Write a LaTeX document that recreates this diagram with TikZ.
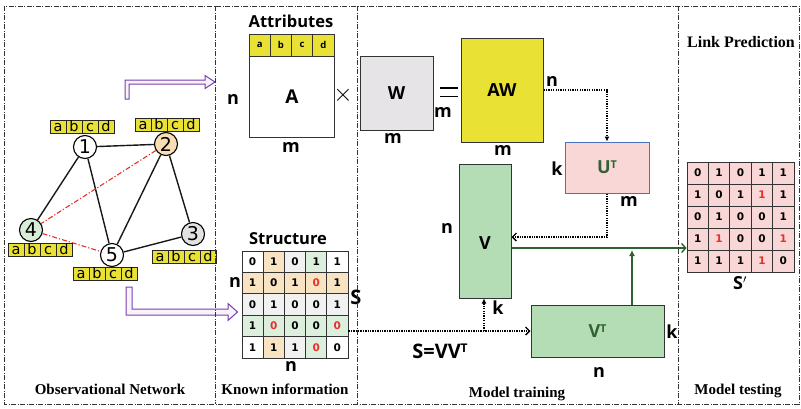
\documentclass[tikz,border=0pt]{standalone}
\usepackage{fontspec}
\setmainfont{Liberation Serif}
\newfontfamily\osans{Open Sans}
\newfontfamily\dvs{DejaVu Sans}
\usetikzlibrary{arrows.meta,calc}
\definecolor{ylw}{HTML}{E9E133}
\definecolor{orn}{HTML}{F9DEB3}
\definecolor{grnN}{HTML}{D8ECD8}
\definecolor{gryN}{HTML}{E2E2E2}
\definecolor{vgrn}{HTML}{B4DDB6}
\definecolor{pnk}{HTML}{F9D7D7}
\definecolor{morn}{HTML}{F8E3C3}
\definecolor{mgrn}{HTML}{DCEEDC}
\definecolor{mgry}{HTML}{F1F1F1}
\definecolor{wgry}{HTML}{E6E4E6}
\definecolor{dgrn}{HTML}{2F6230}
\definecolor{prp}{HTML}{7A3DB0}
\definecolor{ublue}{HTML}{4A72C0}
\definecolor{mred}{HTML}{E8302A}
\newcommand\supT{\raisebox{0.29em}{\scalebox{0.6}{T}}}
\newcommand\rz[1]{\textcolor{mred}{#1}}
\newcommand\abcdbox[3]{\foreach \lt [count=\i] in {a,b,c,d}{\node[abcell] (#1-\i) at ({#2+(\i-2.5)*16},#3) {\lt};}}
\begin{document}
\begin{tikzpicture}[x=1pt,y=-1pt,
  panel/.style={draw=black!80, line width=0.8pt, dash pattern=on 5pt off 1.5pt on 1pt off 1.5pt},
  gnode/.style={circle, draw=black, line width=1.1pt, minimum size=23pt, inner sep=0pt, font=\dvs\fontsize{19}{19}\selectfont},
  gedge/.style={line width=1.4pt, draw=black!90},
  redge/.style={line width=1.1pt, draw=mred, dash pattern=on 5pt off 2pt on 1.2pt off 2pt},
  abcell/.style={draw=black!85, line width=0.8pt, fill=ylw, minimum width=16pt, minimum height=13pt, inner sep=0pt, text height=10pt, text depth=0.5pt, font=\dvs\fontsize{14.5}{14.5}\selectfont},
  parrow/.style={draw=prp, fill=prp!6, line width=1pt, line join=miter},
  ttl/.style={font=\osans\bfseries\fontsize{16.5}{16.5}\selectfont},
  dimlbl/.style={font=\osans\bfseries\fontsize{18}{18}\selectfont, inner sep=0pt},
  mbox/.style={draw=black!80, line width=1pt, inner sep=0pt, font=\osans\bfseries\fontsize{18}{18}\selectfont},
  hcell/.style={draw=black!80, line width=0.8pt, fill=ylw, minimum width=21.25pt, minimum height=22pt, inner sep=0pt, font=\osans\bfseries\fontsize{9.5}{9.5}\selectfont},
  mcell/.style={draw=black!80, line width=0.9pt, minimum width=21.2pt, minimum height=21.4pt, inner sep=0pt, font=\dvs\bfseries\fontsize{10.5}{10.5}\selectfont},
  pcell/.style={mcell, fill=pnk, minimum width=21.4pt, minimum height=22pt},
  dotarr/.style={line width=1.3pt, dash pattern=on 1.3pt off 1.1pt, -{Latex[length=5pt,width=5pt]}},
  dotbarb/.style={line width=1.3pt, dash pattern=on 1.3pt off 1.1pt, -{Straight Barb[length=4pt,width=8pt]}},
  garr/.style={line width=1.4pt, draw=dgrn, -{Latex[length=6pt,width=6pt]}},
  gbarb/.style={line width=1.4pt, draw=dgrn, -{Straight Barb[length=4pt,width=9pt]}},
  botlbl/.style={font=\bfseries\fontsize{15}{15}\selectfont}
]
\useasboundingbox (0,0) rectangle (801,408);

% ---------- Panel 1: observational network ----------
\node[gnode, fill=white] (n1) at (85,147) {1};
\node[gnode, fill=orn] (n2) at (166,144) {2};
\node[gnode, fill=gryN] (n3) at (193,234) {3};
\node[gnode, fill=grnN] (n4) at (31,230) {4};
\node[gnode, fill=white] (n5) at (112,255) {5};
\draw[gedge] (n1) -- (n2);
\draw[gedge] (n1) -- (n4);
\draw[gedge] (n1) -- (n5);
\draw[gedge] (n2) -- (n5);
\draw[gedge] (n2) -- (n3);
\draw[gedge] (n5) -- (n3);
\draw[redge] (n2) -- (n4);
\draw[redge] (n4) -- (n5);
\abcdbox{t1}{82}{127}
\abcdbox{t2}{167}{125}
\abcdbox{t4}{40}{250}
\abcdbox{t3}{184}{257}
\abcdbox{t5}{105}{274}

% hollow purple arrows
\draw[parrow] (125,99) -- (125,80) -- (205,80) -- (205,75.5) -- (215,82) -- (205,88.5) -- (205,84) -- (129,84) -- (129,99) -- cycle;
\draw[parrow] (126,287) -- (126,315) -- (228,315) -- (228,320.5) -- (237.5,312) -- (228,303.5) -- (228,309) -- (132,309) -- (132,287) -- cycle;

% ---------- Panel 2: known information ----------
\node[ttl] (attr) at (291,21) {Attributes};
\foreach \lt [count=\i] in {a,b,c,d} {\node[hcell] (h\i) at ({249+(\i-0.5)*21.25},45) {\lt};}
\node[mbox, fill=white, minimum width=85pt, minimum height=81pt, anchor=north west] (A) at (249,56) {};
\node[dimlbl, font=\osans\bfseries\fontsize{19}{19}\selectfont] (Alb) at (A.center) {A};
\node[dimlbl] (An) at (233,99) {n};
\node[dimlbl] (Am) at (291,147) {m};
\node (times) at (343,95) {\fontsize{26}{26}\selectfont$\times$};

\node[ttl] (struct) at (288,239) {Structure};
\foreach \vals [count=\r] in {{0,1,0,1,1},{1,0,1,\rz0,1},{0,1,0,0,1},{1,\rz0,0,0,\rz0},{1,1,1,\rz0,0}} {
  \foreach \v [count=\c] in \vals {
    \ifnum\r=2 \def\cf{morn}\else\ifnum\r=3 \def\cf{mgry}\else\ifnum\r=4 \def\cf{mgrn}\else
      \ifnum\c=2 \def\cf{morn}\else\ifnum\c=3 \def\cf{mgry}\else\ifnum\c=4 \def\cf{mgrn}\else\def\cf{white}\fi\fi\fi\fi\fi\fi
    \node[mcell, fill=\cf] (s-\r-\c) at ({242+(\c-0.5)*21.2},{251+(\r-0.5)*21.4}) {\v};
  }
}
\node[dimlbl] (Sn) at (235,282) {n};
\node[dimlbl] (Snb) at (291,366) {n};
\node[font=\osans\bfseries\fontsize{20}{20}\selectfont, inner sep=0pt] (Slb) at (356,297) {S};

% ---------- Panel 3: model training ----------
\node[mbox, fill=wgry, minimum width=73pt, minimum height=74pt] (W) at (396.5,93) {W};
\node[dimlbl] (Wm1) at (443,112) {m};
\node[dimlbl] (Wm2) at (393,138) {m};
\draw[line width=1.2pt] (440,88) -- (458,88);
\draw[line width=1.2pt] (440,96.5) -- (458,96.5);
\node[mbox, fill=ylw, minimum width=82pt, minimum height=104pt] (AW) at (502,90) {AW};
\node[dimlbl] (AWm) at (503,150) {m};
\node[dimlbl] (AWn) at (552,81) {n};

\node[draw=ublue, line width=1pt, fill=pnk, minimum width=84pt, minimum height=51pt, inner sep=0pt, text=dgrn, font=\osans\bfseries\fontsize{18}{18}\selectfont] (UT) at (607,167.5) {U\supT};
\node[dimlbl] (Uk) at (557,169) {k};
\node[dimlbl] (Um) at (629,201) {m};

\node[mbox, fill=vgrn, minimum width=52pt, minimum height=134pt] (V) at (485,231) {};
\node[dimlbl] (Vl) at (485,243) {V};
\node[dimlbl] (Vn) at (447,228) {n};
\node[dimlbl] (Vk) at (498,308) {k};

\node[mbox, fill=vgrn, minimum width=133pt, minimum height=52pt, text=dgrn] (VT) at (597.5,331) {V\supT};
\node[dimlbl] (VTk) at (672,332) {k};
\node[dimlbl] (VTn) at (599,372) {n};

\node[font=\osans\bfseries\fontsize{20}{20}\selectfont] (eq) at (440,351) {S=VV\supT};

% dotted connectors
\draw[dotarr] (AW.east) -| (UT.north);
\draw[dotbarb] (UT.south) |- ($(V.east)+(0,6)$);
\draw[dotbarb] (s-4-5.east |- VT.west) -- (VT.west);
\coordinate (br) at (484,331);
\draw[dotarr] (br) -- (br |- V.south);

% ---------- Panel 4: model testing ----------
\node[font=\bfseries\fontsize{16}{16}\selectfont] (lp) at (741,42) {Link Prediction};
\foreach \vals [count=\r] in {{0,1,0,1,1},{1,0,1,\rz1,1},{0,1,0,0,1},{1,\rz1,0,0,\rz1},{1,1,1,\rz1,0}} {
  \foreach \v [count=\c] in \vals {
    \node[pcell] (sp-\r-\c) at ({687+(\c-0.5)*21.4},{162+(\r-0.5)*22}) {\v};
  }
}
\node[font=\osans\bfseries\fontsize{18}{18}\selectfont] (Sp) at (740,283) {S$'$};

% green connectors
\draw[gbarb] ($(V.east)+(0,17)$) coordinate (gs) -- (gs -| sp-4-1.west);
\draw[garr] ($(VT.north)+(34.5,0)$) coordinate (gu) -- ($(gu |- gs)+(0,2)$);

% bottom labels
\node[botlbl] (l1) at (110,389) {Observational Network};
\node[botlbl] (l2) at (285,389) {Known information};
\node[botlbl] (l3) at (517,394) {Model training};
\node[botlbl] (l4) at (738,391) {Model testing};

% panel borders
\draw[panel] (4,6) rectangle (799,404);
\draw[panel] (215,6) -- (215,404);
\draw[panel] (357,6) -- (357,404);
\draw[panel] (678,6) -- (678,404);
\end{tikzpicture}
\end{document}
